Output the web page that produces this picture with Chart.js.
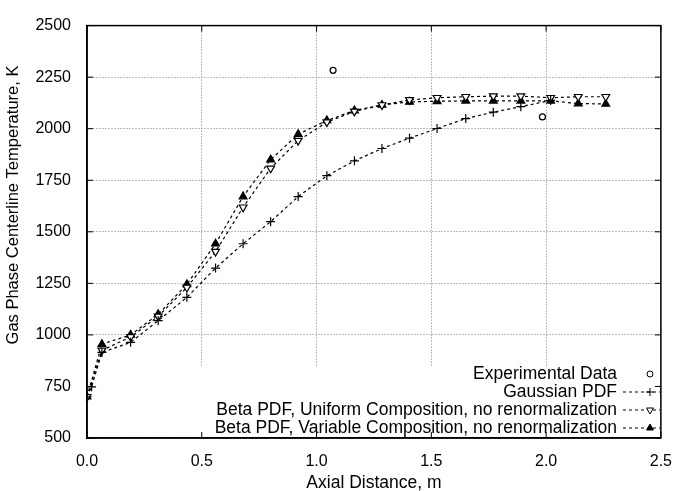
<!DOCTYPE html>
<html>
<head>
<meta charset="utf-8">
<script src="https://cdn.jsdelivr.net/npm/chart.js@4"></script>
<style>
  html, body { margin: 0; padding: 0; background: #fff; }
  #wrap { width: 686px; height: 491px; }
</style>
</head>
<body>
<div id="wrap"><canvas id="myChart" width="686" height="491"></canvas></div>
<script>
// axial positions (m)
const distance = [0.0, 0.065, 0.19, 0.31, 0.435, 0.56, 0.68, 0.80, 0.92, 1.045, 1.165, 1.285, 1.405, 1.525, 1.65, 1.77, 1.89, 2.02, 2.14, 2.26]

const gaussDist = [0.0, 0.02, 0.065, 0.19, 0.31, 0.435, 0.56, 0.68, 0.80, 0.92, 1.045, 1.165, 1.285, 1.405, 1.525, 1.65, 1.77, 1.89, 2.02]
const gaussTemp = [700, 748, 915, 964, 1069, 1182, 1324, 1442, 1549, 1671, 1772, 1844, 1904, 1954, 2001, 2049, 2080, 2107, 2137]

const uniformTemp = [700, 925, 990, 1090, 1230, 1404, 1619, 1808, 1942, 2032, 2084, 2115, 2140, 2150, 2155, 2158, 2158, 2150, 2155, 2155]
const variableTemp = [700, 955, 1000, 1100, 1245, 1442, 1671, 1850, 1973, 2040, 2088, 2115, 2130, 2133, 2135, 2135, 2135, 2135, 2122, 2120]

const expDist = [1.072, 1.984]
const expTemp = [2283, 2057]

const xTicks = [0.0, 0.5, 1.0, 1.5, 2.0, 2.5]
const yTicks = [500, 750, 1000, 1250, 1500, 1750, 2000, 2250, 2500]

const legendLabels = [
  'Experimental Data',
  'Gaussian PDF',
  'Beta PDF, Uniform Composition, no renormalization',
  'Beta PDF, Variable Composition, no renormalization'
]

const FONT = "'Liberation Sans', Arial, sans-serif"
const pts = (xs, ys) => xs.map((x, i) => ({ x: x, y: ys[i] }))

const lineStyle = {
  showLine: true,
  borderColor: '#000',
  borderWidth: 1.2,
  borderDash: [3, 3],
  pointBorderColor: '#000',
  pointBorderWidth: 1.2
}

const datasets = [
  {
    label: legendLabels[0],
    data: pts(expDist, expTemp),
    showLine: false,
    pointStyle: 'circle',
    pointRadius: 3,
    pointBackgroundColor: '#fff',
    pointBorderColor: '#000',
    pointBorderWidth: 1.2
  },
  Object.assign({
    label: legendLabels[1],
    data: pts(gaussDist, gaussTemp),
    pointStyle: 'cross',
    pointRadius: 4.5,
    pointBackgroundColor: '#000'
  }, lineStyle),
  Object.assign({
    label: legendLabels[2],
    data: pts(distance, uniformTemp),
    pointStyle: 'triangle',
    pointRotation: 180,
    pointRadius: 4.5,
    pointBackgroundColor: '#fff'
  }, lineStyle),
  Object.assign({
    label: legendLabels[3],
    data: pts(distance, variableTemp),
    pointStyle: 'triangle',
    pointRadius: 4.5,
    pointBackgroundColor: '#000'
  }, lineStyle)
]

// white key area, frame, inner ticks, y title and the key itself
const frame = {
  id: 'frame',
  beforeDatasetsDraw(chart) {
    const { ctx, chartArea: a } = chart
    ctx.save()
    ctx.fillStyle = '#fff'
    ctx.fillRect(a.left + 1, 367, a.right - a.left - 2, a.bottom - 367 - 1)
    ctx.restore()
  },
  afterDraw(chart) {
    const { ctx, chartArea: a, scales } = chart
    ctx.save()
    ctx.strokeStyle = '#000'
    ctx.lineWidth = 1.5
    ctx.setLineDash([])
    ctx.strokeRect(a.left, a.top, a.right - a.left, a.bottom - a.top)
    ctx.lineWidth = 1
    ctx.beginPath()
    xTicks.forEach(v => {
      const px = scales.x.getPixelForValue(v)
      ctx.moveTo(px, a.bottom); ctx.lineTo(px, a.bottom - 6)
      ctx.moveTo(px, a.top); ctx.lineTo(px, a.top + 6)
    })
    yTicks.forEach(v => {
      const py = scales.y.getPixelForValue(v)
      ctx.moveTo(a.left, py); ctx.lineTo(a.left + 6, py)
      ctx.moveTo(a.right, py); ctx.lineTo(a.right - 6, py)
    })
    ctx.stroke()

    // y axis title
    ctx.save()
    ctx.translate(13, 205)
    ctx.rotate(-Math.PI / 2)
    ctx.font = '16.5px ' + FONT
    ctx.fillStyle = '#000'
    ctx.textAlign = 'center'
    ctx.textBaseline = 'middle'
    ctx.fillText('Gas Phase Centerline Temperature, K', 0, 0)
    ctx.restore()

    // key
    ctx.font = '17.5px ' + FONT
    ctx.textAlign = 'right'
    ctx.textBaseline = 'middle'
    const textX = 617, lineL = 623, lineR = a.right - 1, markX = 650
    chart.data.datasets.forEach((ds, i) => {
      const y = 374 + i * 18
      ctx.fillStyle = '#000'
      ctx.strokeStyle = '#000'
      ctx.fillText(ds.label, textX, y)
      if (ds.showLine) {
        ctx.save()
        ctx.setLineDash(ds.borderDash)
        ctx.lineWidth = 1
        ctx.beginPath()
        ctx.moveTo(lineL, y); ctx.lineTo(lineR, y)
        ctx.stroke()
        ctx.restore()
      }
      ctx.save()
      ctx.fillStyle = ds.pointBackgroundColor || '#000'
      ctx.strokeStyle = '#000'
      ctx.lineWidth = 1
      Chart.helpers.drawPoint(ctx, {
        pointStyle: ds.pointStyle,
        rotation: ds.pointRotation || 0,
        radius: Math.min(ds.pointRadius, 4),
        borderWidth: 1
      }, markX, y)
      ctx.restore()
    })
    ctx.restore()
  }
}

const config = {
  type: 'scatter',
  data: { datasets: datasets },
  options: {
    responsive: false,
    animation: false,
    layout: { padding: { top: 15, right: 12, left: 0, bottom: 0 } },
    plugins: {
      legend: { display: false },
      tooltip: { enabled: false }
    },
    scales: {
      x: {
        type: 'linear',
        min: 0,
        max: 2.5,
        afterBuildTicks: s => { s.ticks = xTicks.map(v => ({ value: v })) },
        afterFit: s => { s.height = 53 },
        ticks: {
          color: '#000',
          padding: 14,
          maxRotation: 0,
          font: { family: FONT, size: 16 },
          callback: v => v.toFixed(1)
        },
        grid: { color: '#7a7a7a', lineWidth: 1, drawTicks: false },
        border: { display: true, color: '#000', width: 1.5, dash: [1, 2] },
        title: {
          display: true,
          text: 'Axial Distance, m',
          color: '#000',
          font: { family: FONT, size: 17.5 },
          padding: { top: 0, bottom: -3 }
        }
      },
      y: {
        type: 'linear',
        min: 500,
        max: 2500,
        afterBuildTicks: s => { s.ticks = yTicks.map(v => ({ value: v })) },
        afterFit: s => { s.width = 87 },
        ticks: {
          color: '#000',
          padding: 16,
          font: { family: FONT, size: 16 },
          callback: v => String(v)
        },
        grid: { color: '#7a7a7a', lineWidth: 1, drawTicks: false },
        border: { display: true, color: '#000', width: 1.5, dash: [1, 2] },
        title: { display: false }
      }
    }
  },
  plugins: [frame]
}

const myChart = new Chart(document.getElementById('myChart'), config)
</script>
</body>
</html>
